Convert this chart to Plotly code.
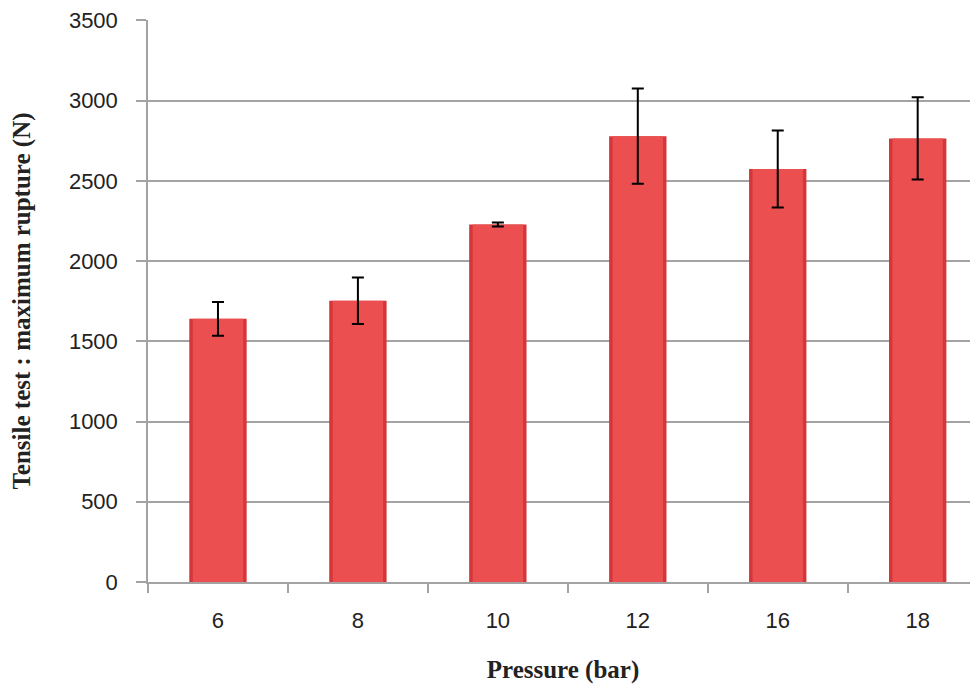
import plotly.graph_objects as go

pressure = ["6", "8", "10", "12", "16", "18"]
rupture = [1640, 1753, 2228, 2778, 2573, 2764]
rupture_err = [105, 145, 12, 297, 240, 256]

y_ticks = [0, 500, 1000, 1500, 2000, 2500, 3000, 3500]

fig = go.Figure()
# darker outer bar (edge shading)
fig.add_trace(go.Bar(x=pressure, y=rupture, width=0.41,
                     marker=dict(color="#D4363A", line=dict(width=0)),
                     hoverinfo="skip", showlegend=False))
# lighter inner bar
fig.add_trace(go.Bar(x=pressure, y=rupture, width=0.36,
                     marker=dict(color="#EB4F50", line=dict(width=0)),
                     error_y=dict(type="data", array=rupture_err, visible=True,
                                  color="black", thickness=2, width=6),
                     showlegend=False))

grid = "#A3A3A3"
tick_font = dict(family="Liberation Sans, Arial, sans-serif", size=22, color="#222")
title_font = dict(family="Liberation Serif, Times New Roman, serif", size=25,
                  color="#222", weight="bold")

fig.update_layout(
    width=970, height=676,
    margin=dict(l=140, r=0, t=10, b=102),
    paper_bgcolor="white", plot_bgcolor="white",
    barmode="overlay",
    showlegend=False,
    font=tick_font,
)
fig.update_xaxes(
    type="category",
    range=[-0.5, 5.431],
    tickson="boundaries",
    ticks="outside", ticklen=9, tickcolor=grid, tickwidth=1.5,
    showline=True, linecolor=grid, linewidth=1.5,
    showgrid=False,
    ticklabelstandoff=18,
    tickfont=tick_font,
    title=dict(text="Pressure (bar)", standoff=28, font=title_font),
)
fig.update_yaxes(
    range=[0, 3502],
    tickmode="array", tickvals=y_ticks,
    ticks="outside", ticklen=10, tickcolor=grid, tickwidth=1.5,
    showline=True, linecolor=grid, linewidth=1.5,
    showgrid=True, gridcolor=grid, gridwidth=1.5,
    zeroline=False,
    ticklabelstandoff=14,
    ticklabeloverflow="allow",
    tickfont=tick_font,
    title=dict(text="Tensile test : maximum rupture (N)", standoff=32, font=title_font),
)

fig.write_html("out.html")
